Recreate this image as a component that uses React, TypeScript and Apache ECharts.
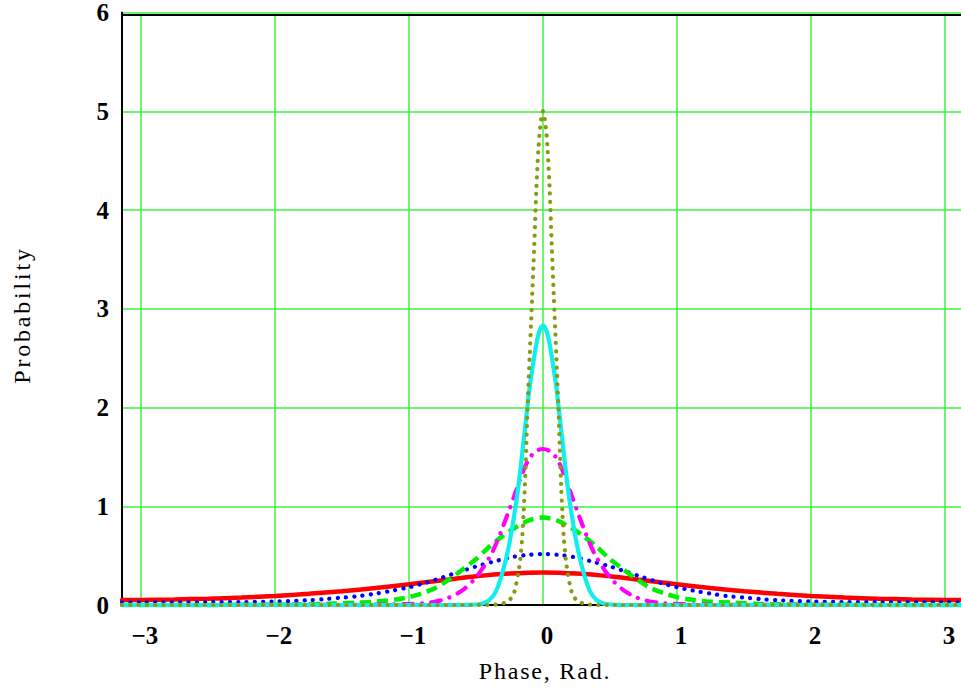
import React, { useEffect, useRef } from "react";
import * as echarts from "echarts";

// Half-profiles (curves are symmetric about phase 0): offsets in rad, probability values
const redOffsets = [0, 0.25, 0.5, 0.75, 1.0, 1.25, 1.5, 1.75, 2.0, 2.25, 2.5, 2.75, 3.0, 3.1416];
const redValues = [0.33, 0.318, 0.29, 0.25, 0.21, 0.172, 0.14, 0.113, 0.092, 0.075, 0.064, 0.056, 0.051, 0.05];

const blueOffsets = [0, 0.125, 0.25, 0.375, 0.5, 0.625, 0.75, 0.875, 1.0, 1.125, 1.25, 1.375, 1.5, 1.625, 1.75, 2.0, 2.25, 2.5, 3.0, 3.1416];
const blueValues = [0.516, 0.506, 0.48, 0.437, 0.39, 0.335, 0.28, 0.225, 0.18, 0.145, 0.115, 0.09, 0.075, 0.06, 0.048, 0.035, 0.03, 0.028, 0.027, 0.027];

const greenOffsets = [0, 0.1, 0.2, 0.3, 0.4, 0.5, 0.6, 0.7, 0.8, 0.9, 1.0, 1.1, 1.25, 1.4, 1.6, 1.8, 2.0, 2.5, 3.1416];
const greenValues = [0.885, 0.86, 0.79, 0.7, 0.59, 0.465, 0.36, 0.26, 0.175, 0.12, 0.08, 0.055, 0.034, 0.024, 0.012, 0.006, 0.003, 0.001, 0];

const magentaOffsets = [0, 0.05, 0.1, 0.15, 0.2, 0.25, 0.3, 0.35, 0.4, 0.5, 0.6, 0.7, 0.8, 0.9, 1.0, 1.25, 1.5, 3.1416];
const magentaValues = [1.58, 1.56, 1.49, 1.35, 1.16, 0.97, 0.79, 0.62, 0.48, 0.28, 0.15, 0.075, 0.035, 0.018, 0.01, 0.003, 0.001, 0];

const cyanOffsets = [0, 0.025, 0.05, 0.075, 0.1, 0.125, 0.15, 0.175, 0.2, 0.25, 0.3, 0.35, 0.4, 0.45, 0.5, 0.6, 3.1416];
const cyanValues = [2.83, 2.78, 2.64, 2.43, 2.2, 1.9, 1.6, 1.3, 1.04, 0.63, 0.34, 0.14, 0.05, 0.015, 0.005, 0, 0];

const oliveOffsets = [0, 0.02, 0.035, 0.05, 0.065, 0.08, 0.1, 0.115, 0.125, 0.135, 0.145, 0.155, 0.17, 0.185, 0.2, 0.22, 0.25, 0.28, 0.32, 0.4, 3.1416];
const oliveValues = [5.0, 4.85, 4.6, 4.2, 3.65, 3.15, 2.5, 2.0, 1.6, 1.22, 0.93, 0.69, 0.46, 0.32, 0.21, 0.11, 0.05, 0.025, 0.01, 0, 0];

const yTicks = [0, 1, 2, 3, 4, 5, 6];
const xAxisTitle = "Phase, Rad.";
const yAxisTitle = "Probability";

function mirror(offsets: number[], values: number[]): number[][] {
  const left: number[][] = [];
  for (let i = offsets.length - 1; i > 0; i--) left.push([-offsets[i], values[i]]);
  const right: number[][] = offsets.map((o, i) => [o, values[i]]);
  return left.concat(right);
}

const FONT = '"Liberation Serif", "DejaVu Serif", "Times New Roman", serif';

export default function App() {
  const ref = useRef<HTMLDivElement>(null);
  useEffect(() => {
    if (!ref.current) return;
    const chart = echarts.init(ref.current, undefined, { renderer: "svg" });
    const gridColor = "#3ff03f";
    const fmtX = (v: number) => {
      const r = Math.round(v);
      if (Math.abs(v - r) > 1e-6) return "";
      return r < 0 ? "\u2212" + -r : String(r);
    };
    const lineSeries = (name: string, data: number[][], color: string, width: number, type: any, cap: any) => ({
      name,
      type: "line",
      data,
      showSymbol: false,
      smooth: 0.3,
      clip: false,
      lineStyle: { color, width, type, cap },
    });
    chart.setOption({
      animation: false,
      backgroundColor: "#ffffff",
      grid: { left: 122, right: 16, top: 12, bottom: 83, containLabel: false },
      xAxis: [
        {
          type: "value",
          min: -Math.PI,
          max: Math.PI,
          position: "bottom",
          axisLine: { show: true, onZero: false, lineStyle: { color: "#000", width: 2 } },
          axisTick: { show: false },
          splitLine: { show: true, showMinLine: false, showMaxLine: false, lineStyle: { color: gridColor, width: 1.5 } },
          axisLabel: {
            formatter: fmtX,
            showMinLabel: false,
            showMaxLabel: false,
            fontFamily: FONT,
            fontWeight: "bold",
            fontSize: 25,
            color: "#000",
            margin: 18,
            padding: [0, 0, 0, 8],
          },
        },
        {
          type: "value",
          min: -Math.PI,
          max: Math.PI,
          position: "top",
          offset: -2,
          axisLine: { show: true, onZero: false, lineStyle: { color: "#000", width: 2 } },
          axisTick: { show: false },
          axisLabel: { show: false },
          splitLine: { show: false },
        },
      ],
      yAxis: {
        type: "value",
        min: yTicks[0],
        max: yTicks[yTicks.length - 1],
        interval: 1,
        axisLine: { show: true, onZero: false, lineStyle: { color: "#000", width: 2 } },
        axisTick: { show: false },
        splitLine: { show: true, showMinLine: false, lineStyle: { color: gridColor, width: 1.5 } },
        axisLabel: {
          fontFamily: FONT,
          fontWeight: "bold",
          fontSize: 25,
          color: "#000",
          margin: 13,
          padding: [10, 0, 0, 0],
        },
      },
      graphic: [
        {
          type: "text",
          x: 545,
          y: 671,
          style: { text: xAxisTitle, font: `24px ${FONT}`, fill: "#000", align: "center", verticalAlign: "middle" },
        },
        {
          type: "text",
          x: 22,
          y: 315,
          rotation: Math.PI / 2,
          style: { text: yAxisTitle, font: `24px ${FONT}`, fill: "#000", align: "center", verticalAlign: "middle" },
        },
      ],
      series: [
        lineSeries("red", mirror(redOffsets, redValues), "#ff0000", 4.5, "solid", "round"),
        lineSeries("blue", mirror(blueOffsets, blueValues), "#0000ff", 4.2, [0.1, 8.2], "round"),
        lineSeries("green", mirror(greenOffsets, greenValues), "#00ee00", 4.5, [11, 6], "butt"),
        lineSeries("magenta", mirror(magentaOffsets, magentaValues), "#ff00ff", 4.2, [10, 9, 0.1, 9], "round"),
        lineSeries("cyan", mirror(cyanOffsets, cyanValues), "#11eeee", 4.2, "solid", "round"),
        lineSeries("olive", mirror(oliveOffsets, oliveValues), "#8a9a10", 4.2, [0.1, 8.2], "round"),
      ],
    });
    // letter-spaced axis titles, as in the reference
    const texts = ref.current.querySelectorAll("text");
    texts.forEach((t) => {
      const s = t.textContent || "";
      if (s === yAxisTitle) (t as any).style.letterSpacing = "2.8px";
      if (s === xAxisTitle) (t as any).style.letterSpacing = "1.8px";
    });
    return () => chart.dispose();
  }, []);
  return <div ref={ref} style={{ position: "fixed", left: 0, top: 0, width: 980, height: 688 }} />;
}
